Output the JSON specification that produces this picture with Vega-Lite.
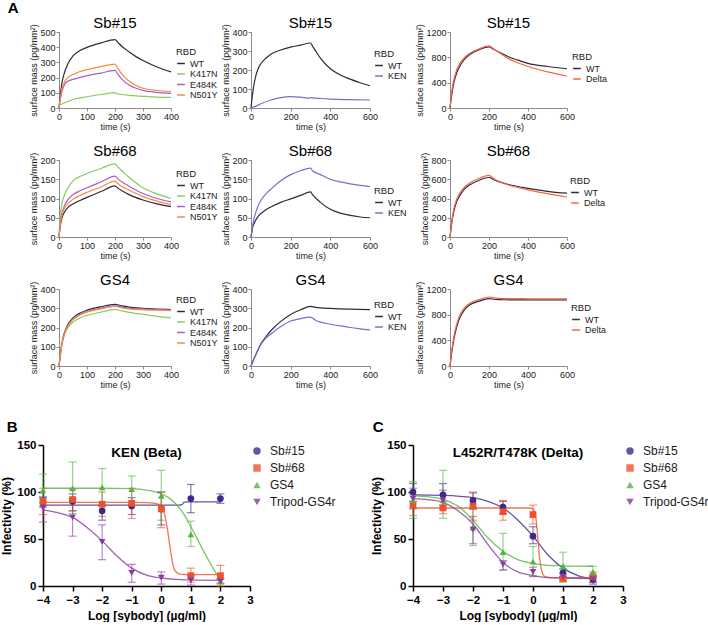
{
"$schema":"https://vega.github.io/schema/vega-lite/v6.json",
"padding":{"left":0,"top":0,"right":0,"bottom":0},
"background":"white",
"title":{"text":"A","anchor":"start","frame":"bounds","fontSize":15,"fontWeight":"bold","offset":0,"dx":7},
"config":{"font":"Liberation Sans","view":{"stroke":null},
"axis":{"grid":false,"labelFontSize":9,"titleFontSize":9,"titleFontWeight":"normal","tickSize":3,"labelPadding":1,"titlePadding":1,"domainColor":"#8a8a8a","tickColor":"#8a8a8a","labelColor":"#1a1a1a","titleColor":"#1a1a1a","labelFlush":false,"labelOverlap":false},
"legend":{"symbolType":"stroke","symbolStrokeWidth":1.5,"symbolSize":60,"labelFontSize":9,"titleFontSize":9.5,"titleFontWeight":"normal","rowPadding":0.5,"labelOffset":4,"titlePadding":2,"labelColor":"#1a1a1a","titleColor":"#1a1a1a"},
"title":{"fontSize":15,"fontWeight":"normal","color":"black","offset":-7}},
"datasets":{
"sens":[
{"p":"a1","s":"WT","t":0,"v":0},{"p":"a1","s":"WT","t":5,"v":90},{"p":"a1","s":"WT","t":10,"v":160},{"p":"a1","s":"WT","t":20,"v":235},{"p":"a1","s":"WT","t":30,"v":285},{"p":"a1","s":"WT","t":50,"v":343},{"p":"a1","s":"WT","t":75,"v":378},{"p":"a1","s":"WT","t":100,"v":399},{"p":"a1","s":"WT","t":150,"v":428},{"p":"a1","s":"WT","t":200,"v":450},{"p":"a1","s":"WT","t":210,"v":432},{"p":"a1","s":"WT","t":225,"v":405},{"p":"a1","s":"WT","t":250,"v":370},{"p":"a1","s":"WT","t":275,"v":338},{"p":"a1","s":"WT","t":300,"v":312},{"p":"a1","s":"WT","t":350,"v":270},{"p":"a1","s":"WT","t":400,"v":238},
{"p":"a1","s":"K417N","t":0,"v":18},{"p":"a1","s":"K417N","t":25,"v":38},{"p":"a1","s":"K417N","t":50,"v":56},{"p":"a1","s":"K417N","t":100,"v":74},{"p":"a1","s":"K417N","t":150,"v":89},{"p":"a1","s":"K417N","t":200,"v":101},{"p":"a1","s":"K417N","t":203,"v":97},{"p":"a1","s":"K417N","t":207,"v":94},{"p":"a1","s":"K417N","t":225,"v":89},{"p":"a1","s":"K417N","t":250,"v":83},{"p":"a1","s":"K417N","t":300,"v":77},{"p":"a1","s":"K417N","t":350,"v":72},{"p":"a1","s":"K417N","t":400,"v":70},
{"p":"a1","s":"E484K","t":0,"v":0},{"p":"a1","s":"E484K","t":5,"v":60},{"p":"a1","s":"E484K","t":10,"v":105},{"p":"a1","s":"E484K","t":20,"v":155},{"p":"a1","s":"E484K","t":30,"v":175},{"p":"a1","s":"E484K","t":50,"v":188},{"p":"a1","s":"E484K","t":75,"v":202},{"p":"a1","s":"E484K","t":100,"v":213},{"p":"a1","s":"E484K","t":150,"v":230},{"p":"a1","s":"E484K","t":200,"v":247},{"p":"a1","s":"E484K","t":210,"v":222},{"p":"a1","s":"E484K","t":225,"v":188},{"p":"a1","s":"E484K","t":250,"v":152},{"p":"a1","s":"E484K","t":275,"v":130},{"p":"a1","s":"E484K","t":300,"v":116},{"p":"a1","s":"E484K","t":350,"v":103},{"p":"a1","s":"E484K","t":400,"v":96},
{"p":"a1","s":"N501Y","t":0,"v":0},{"p":"a1","s":"N501Y","t":5,"v":70},{"p":"a1","s":"N501Y","t":10,"v":120},{"p":"a1","s":"N501Y","t":20,"v":172},{"p":"a1","s":"N501Y","t":30,"v":198},{"p":"a1","s":"N501Y","t":50,"v":220},{"p":"a1","s":"N501Y","t":75,"v":240},{"p":"a1","s":"N501Y","t":100,"v":253},{"p":"a1","s":"N501Y","t":150,"v":272},{"p":"a1","s":"N501Y","t":200,"v":289},{"p":"a1","s":"N501Y","t":210,"v":262},{"p":"a1","s":"N501Y","t":225,"v":222},{"p":"a1","s":"N501Y","t":250,"v":178},{"p":"a1","s":"N501Y","t":275,"v":148},{"p":"a1","s":"N501Y","t":300,"v":130},{"p":"a1","s":"N501Y","t":350,"v":115},{"p":"a1","s":"N501Y","t":400,"v":108},
{"p":"a2","s":"WT","t":0,"v":0},{"p":"a2","s":"WT","t":10,"v":90},{"p":"a2","s":"WT","t":20,"v":150},{"p":"a2","s":"WT","t":35,"v":205},{"p":"a2","s":"WT","t":50,"v":233},{"p":"a2","s":"WT","t":75,"v":262},{"p":"a2","s":"WT","t":100,"v":283},{"p":"a2","s":"WT","t":150,"v":305},{"p":"a2","s":"WT","t":200,"v":320},{"p":"a2","s":"WT","t":250,"v":331},{"p":"a2","s":"WT","t":300,"v":342},{"p":"a2","s":"WT","t":310,"v":326},{"p":"a2","s":"WT","t":325,"v":302},{"p":"a2","s":"WT","t":350,"v":262},{"p":"a2","s":"WT","t":400,"v":207},{"p":"a2","s":"WT","t":450,"v":174},{"p":"a2","s":"WT","t":500,"v":152},{"p":"a2","s":"WT","t":550,"v":133},{"p":"a2","s":"WT","t":600,"v":117},
{"p":"a2","s":"KEN","t":0,"v":0},{"p":"a2","s":"KEN","t":25,"v":10},{"p":"a2","s":"KEN","t":50,"v":22},{"p":"a2","s":"KEN","t":100,"v":42},{"p":"a2","s":"KEN","t":150,"v":55},{"p":"a2","s":"KEN","t":200,"v":60},{"p":"a2","s":"KEN","t":250,"v":57},{"p":"a2","s":"KEN","t":295,"v":52},{"p":"a2","s":"KEN","t":300,"v":55},{"p":"a2","s":"KEN","t":310,"v":53},{"p":"a2","s":"KEN","t":350,"v":50},{"p":"a2","s":"KEN","t":400,"v":47},{"p":"a2","s":"KEN","t":500,"v":44},{"p":"a2","s":"KEN","t":600,"v":42},
{"p":"a3","s":"WT","t":0,"v":0},{"p":"a3","s":"WT","t":10,"v":230},{"p":"a3","s":"WT","t":20,"v":400},{"p":"a3","s":"WT","t":35,"v":560},{"p":"a3","s":"WT","t":50,"v":660},{"p":"a3","s":"WT","t":75,"v":770},{"p":"a3","s":"WT","t":100,"v":840},{"p":"a3","s":"WT","t":150,"v":920},{"p":"a3","s":"WT","t":200,"v":965},{"p":"a3","s":"WT","t":225,"v":925},{"p":"a3","s":"WT","t":250,"v":885},{"p":"a3","s":"WT","t":300,"v":810},{"p":"a3","s":"WT","t":350,"v":755},{"p":"a3","s":"WT","t":400,"v":705},{"p":"a3","s":"WT","t":500,"v":655},{"p":"a3","s":"WT","t":600,"v":620},
{"p":"a3","s":"Delta","t":0,"v":0},{"p":"a3","s":"Delta","t":10,"v":280},{"p":"a3","s":"Delta","t":20,"v":450},{"p":"a3","s":"Delta","t":35,"v":610},{"p":"a3","s":"Delta","t":50,"v":700},{"p":"a3","s":"Delta","t":75,"v":800},{"p":"a3","s":"Delta","t":100,"v":860},{"p":"a3","s":"Delta","t":150,"v":935},{"p":"a3","s":"Delta","t":200,"v":980},{"p":"a3","s":"Delta","t":225,"v":930},{"p":"a3","s":"Delta","t":250,"v":880},{"p":"a3","s":"Delta","t":300,"v":780},{"p":"a3","s":"Delta","t":350,"v":710},{"p":"a3","s":"Delta","t":400,"v":655},{"p":"a3","s":"Delta","t":500,"v":570},{"p":"a3","s":"Delta","t":600,"v":505},
{"p":"b1","s":"WT","t":0,"v":0},{"p":"b1","s":"WT","t":5,"v":30},{"p":"b1","s":"WT","t":10,"v":48},{"p":"b1","s":"WT","t":20,"v":65},{"p":"b1","s":"WT","t":30,"v":75},{"p":"b1","s":"WT","t":50,"v":86},{"p":"b1","s":"WT","t":75,"v":95},{"p":"b1","s":"WT","t":100,"v":103},{"p":"b1","s":"WT","t":150,"v":118},{"p":"b1","s":"WT","t":200,"v":133},{"p":"b1","s":"WT","t":210,"v":127},{"p":"b1","s":"WT","t":225,"v":120},{"p":"b1","s":"WT","t":250,"v":110},{"p":"b1","s":"WT","t":300,"v":96},{"p":"b1","s":"WT","t":350,"v":86},{"p":"b1","s":"WT","t":400,"v":79},
{"p":"b1","s":"K417N","t":0,"v":0},{"p":"b1","s":"K417N","t":5,"v":60},{"p":"b1","s":"K417N","t":10,"v":85},{"p":"b1","s":"K417N","t":20,"v":110},{"p":"b1","s":"K417N","t":30,"v":125},{"p":"b1","s":"K417N","t":50,"v":146},{"p":"b1","s":"K417N","t":75,"v":157},{"p":"b1","s":"K417N","t":100,"v":165},{"p":"b1","s":"K417N","t":150,"v":178},{"p":"b1","s":"K417N","t":200,"v":190},{"p":"b1","s":"K417N","t":210,"v":182},{"p":"b1","s":"K417N","t":225,"v":172},{"p":"b1","s":"K417N","t":250,"v":155},{"p":"b1","s":"K417N","t":300,"v":128},{"p":"b1","s":"K417N","t":350,"v":112},{"p":"b1","s":"K417N","t":400,"v":100},
{"p":"b1","s":"E484K","t":0,"v":0},{"p":"b1","s":"E484K","t":5,"v":40},{"p":"b1","s":"E484K","t":10,"v":60},{"p":"b1","s":"E484K","t":20,"v":82},{"p":"b1","s":"E484K","t":30,"v":95},{"p":"b1","s":"E484K","t":50,"v":110},{"p":"b1","s":"E484K","t":75,"v":120},{"p":"b1","s":"E484K","t":100,"v":128},{"p":"b1","s":"E484K","t":150,"v":143},{"p":"b1","s":"E484K","t":200,"v":158},{"p":"b1","s":"E484K","t":210,"v":151},{"p":"b1","s":"E484K","t":225,"v":143},{"p":"b1","s":"E484K","t":250,"v":132},{"p":"b1","s":"E484K","t":300,"v":113},{"p":"b1","s":"E484K","t":350,"v":100},{"p":"b1","s":"E484K","t":400,"v":91},
{"p":"b1","s":"N501Y","t":0,"v":0},{"p":"b1","s":"N501Y","t":5,"v":35},{"p":"b1","s":"N501Y","t":10,"v":55},{"p":"b1","s":"N501Y","t":20,"v":75},{"p":"b1","s":"N501Y","t":30,"v":85},{"p":"b1","s":"N501Y","t":50,"v":98},{"p":"b1","s":"N501Y","t":75,"v":108},{"p":"b1","s":"N501Y","t":100,"v":116},{"p":"b1","s":"N501Y","t":150,"v":130},{"p":"b1","s":"N501Y","t":200,"v":145},{"p":"b1","s":"N501Y","t":210,"v":139},{"p":"b1","s":"N501Y","t":225,"v":131},{"p":"b1","s":"N501Y","t":250,"v":122},{"p":"b1","s":"N501Y","t":300,"v":105},{"p":"b1","s":"N501Y","t":350,"v":93},{"p":"b1","s":"N501Y","t":400,"v":84},
{"p":"b2","s":"WT","t":0,"v":0},{"p":"b2","s":"WT","t":10,"v":28},{"p":"b2","s":"WT","t":20,"v":40},{"p":"b2","s":"WT","t":35,"v":53},{"p":"b2","s":"WT","t":50,"v":61},{"p":"b2","s":"WT","t":75,"v":71},{"p":"b2","s":"WT","t":100,"v":78},{"p":"b2","s":"WT","t":150,"v":90},{"p":"b2","s":"WT","t":200,"v":99},{"p":"b2","s":"WT","t":250,"v":108},{"p":"b2","s":"WT","t":300,"v":117},{"p":"b2","s":"WT","t":310,"v":110},{"p":"b2","s":"WT","t":350,"v":90},{"p":"b2","s":"WT","t":400,"v":72},{"p":"b2","s":"WT","t":450,"v":62},{"p":"b2","s":"WT","t":500,"v":56},{"p":"b2","s":"WT","t":550,"v":52},{"p":"b2","s":"WT","t":600,"v":50},
{"p":"b2","s":"KEN","t":0,"v":0},{"p":"b2","s":"KEN","t":10,"v":35},{"p":"b2","s":"KEN","t":20,"v":57},{"p":"b2","s":"KEN","t":35,"v":80},{"p":"b2","s":"KEN","t":50,"v":95},{"p":"b2","s":"KEN","t":75,"v":112},{"p":"b2","s":"KEN","t":100,"v":124},{"p":"b2","s":"KEN","t":150,"v":146},{"p":"b2","s":"KEN","t":200,"v":162},{"p":"b2","s":"KEN","t":250,"v":172},{"p":"b2","s":"KEN","t":300,"v":179},{"p":"b2","s":"KEN","t":310,"v":172},{"p":"b2","s":"KEN","t":350,"v":162},{"p":"b2","s":"KEN","t":400,"v":150},{"p":"b2","s":"KEN","t":450,"v":143},{"p":"b2","s":"KEN","t":500,"v":138},{"p":"b2","s":"KEN","t":550,"v":134},{"p":"b2","s":"KEN","t":600,"v":131},
{"p":"b3","s":"WT","t":0,"v":0},{"p":"b3","s":"WT","t":10,"v":160},{"p":"b3","s":"WT","t":20,"v":270},{"p":"b3","s":"WT","t":35,"v":370},{"p":"b3","s":"WT","t":50,"v":430},{"p":"b3","s":"WT","t":75,"v":500},{"p":"b3","s":"WT","t":100,"v":540},{"p":"b3","s":"WT","t":150,"v":590},{"p":"b3","s":"WT","t":200,"v":618},{"p":"b3","s":"WT","t":225,"v":595},{"p":"b3","s":"WT","t":250,"v":575},{"p":"b3","s":"WT","t":300,"v":545},{"p":"b3","s":"WT","t":400,"v":505},{"p":"b3","s":"WT","t":500,"v":475},{"p":"b3","s":"WT","t":600,"v":455},
{"p":"b3","s":"Delta","t":0,"v":0},{"p":"b3","s":"Delta","t":10,"v":180},{"p":"b3","s":"Delta","t":20,"v":295},{"p":"b3","s":"Delta","t":35,"v":395},{"p":"b3","s":"Delta","t":50,"v":455},{"p":"b3","s":"Delta","t":75,"v":520},{"p":"b3","s":"Delta","t":100,"v":560},{"p":"b3","s":"Delta","t":150,"v":610},{"p":"b3","s":"Delta","t":200,"v":640},{"p":"b3","s":"Delta","t":225,"v":605},{"p":"b3","s":"Delta","t":250,"v":580},{"p":"b3","s":"Delta","t":300,"v":540},{"p":"b3","s":"Delta","t":400,"v":490},{"p":"b3","s":"Delta","t":500,"v":450},{"p":"b3","s":"Delta","t":600,"v":415},
{"p":"c1","s":"WT","t":0,"v":0},{"p":"c1","s":"WT","t":5,"v":60},{"p":"c1","s":"WT","t":10,"v":115},{"p":"c1","s":"WT","t":20,"v":175},{"p":"c1","s":"WT","t":30,"v":210},{"p":"c1","s":"WT","t":50,"v":250},{"p":"c1","s":"WT","t":75,"v":275},{"p":"c1","s":"WT","t":100,"v":290},{"p":"c1","s":"WT","t":150,"v":308},{"p":"c1","s":"WT","t":200,"v":320},{"p":"c1","s":"WT","t":225,"v":312},{"p":"c1","s":"WT","t":250,"v":306},{"p":"c1","s":"WT","t":300,"v":300},{"p":"c1","s":"WT","t":350,"v":296},{"p":"c1","s":"WT","t":400,"v":293},
{"p":"c1","s":"K417N","t":0,"v":0},{"p":"c1","s":"K417N","t":5,"v":65},{"p":"c1","s":"K417N","t":10,"v":115},{"p":"c1","s":"K417N","t":20,"v":165},{"p":"c1","s":"K417N","t":30,"v":195},{"p":"c1","s":"K417N","t":50,"v":228},{"p":"c1","s":"K417N","t":75,"v":250},{"p":"c1","s":"K417N","t":100,"v":263},{"p":"c1","s":"K417N","t":150,"v":280},{"p":"c1","s":"K417N","t":200,"v":294},{"p":"c1","s":"K417N","t":225,"v":286},{"p":"c1","s":"K417N","t":250,"v":279},{"p":"c1","s":"K417N","t":300,"v":268},{"p":"c1","s":"K417N","t":350,"v":258},{"p":"c1","s":"K417N","t":400,"v":250},
{"p":"c1","s":"E484K","t":0,"v":0},{"p":"c1","s":"E484K","t":5,"v":58},{"p":"c1","s":"E484K","t":10,"v":110},{"p":"c1","s":"E484K","t":20,"v":170},{"p":"c1","s":"E484K","t":30,"v":205},{"p":"c1","s":"E484K","t":50,"v":245},{"p":"c1","s":"E484K","t":75,"v":268},{"p":"c1","s":"E484K","t":100,"v":283},{"p":"c1","s":"E484K","t":150,"v":300},{"p":"c1","s":"E484K","t":200,"v":313},{"p":"c1","s":"E484K","t":225,"v":306},{"p":"c1","s":"E484K","t":250,"v":301},{"p":"c1","s":"E484K","t":300,"v":296},{"p":"c1","s":"E484K","t":350,"v":293},{"p":"c1","s":"E484K","t":400,"v":291},
{"p":"c1","s":"N501Y","t":0,"v":0},{"p":"c1","s":"N501Y","t":5,"v":57},{"p":"c1","s":"N501Y","t":10,"v":108},{"p":"c1","s":"N501Y","t":20,"v":168},{"p":"c1","s":"N501Y","t":30,"v":202},{"p":"c1","s":"N501Y","t":50,"v":241},{"p":"c1","s":"N501Y","t":75,"v":265},{"p":"c1","s":"N501Y","t":100,"v":280},{"p":"c1","s":"N501Y","t":150,"v":297},{"p":"c1","s":"N501Y","t":200,"v":309},{"p":"c1","s":"N501Y","t":225,"v":302},{"p":"c1","s":"N501Y","t":250,"v":297},{"p":"c1","s":"N501Y","t":300,"v":292},{"p":"c1","s":"N501Y","t":350,"v":290},{"p":"c1","s":"N501Y","t":400,"v":288},
{"p":"c2","s":"WT","t":0,"v":0},{"p":"c2","s":"WT","t":10,"v":25},{"p":"c2","s":"WT","t":25,"v":60},{"p":"c2","s":"WT","t":50,"v":115},{"p":"c2","s":"WT","t":75,"v":152},{"p":"c2","s":"WT","t":100,"v":183},{"p":"c2","s":"WT","t":150,"v":232},{"p":"c2","s":"WT","t":200,"v":268},{"p":"c2","s":"WT","t":250,"v":292},{"p":"c2","s":"WT","t":300,"v":310},{"p":"c2","s":"WT","t":325,"v":305},{"p":"c2","s":"WT","t":350,"v":302},{"p":"c2","s":"WT","t":400,"v":299},{"p":"c2","s":"WT","t":500,"v":295},{"p":"c2","s":"WT","t":600,"v":293},
{"p":"c2","s":"KEN","t":0,"v":0},{"p":"c2","s":"KEN","t":10,"v":25},{"p":"c2","s":"KEN","t":25,"v":62},{"p":"c2","s":"KEN","t":50,"v":112},{"p":"c2","s":"KEN","t":75,"v":145},{"p":"c2","s":"KEN","t":100,"v":166},{"p":"c2","s":"KEN","t":150,"v":205},{"p":"c2","s":"KEN","t":200,"v":234},{"p":"c2","s":"KEN","t":250,"v":246},{"p":"c2","s":"KEN","t":300,"v":254},{"p":"c2","s":"KEN","t":325,"v":238},{"p":"c2","s":"KEN","t":350,"v":228},{"p":"c2","s":"KEN","t":400,"v":217},{"p":"c2","s":"KEN","t":450,"v":208},{"p":"c2","s":"KEN","t":500,"v":200},{"p":"c2","s":"KEN","t":550,"v":193},{"p":"c2","s":"KEN","t":600,"v":188},
{"p":"c3","s":"WT","t":0,"v":0},{"p":"c3","s":"WT","t":10,"v":230},{"p":"c3","s":"WT","t":20,"v":420},{"p":"c3","s":"WT","t":35,"v":620},{"p":"c3","s":"WT","t":50,"v":750},{"p":"c3","s":"WT","t":75,"v":880},{"p":"c3","s":"WT","t":100,"v":950},{"p":"c3","s":"WT","t":150,"v":1010},{"p":"c3","s":"WT","t":200,"v":1050},{"p":"c3","s":"WT","t":225,"v":1040},{"p":"c3","s":"WT","t":250,"v":1035},{"p":"c3","s":"WT","t":300,"v":1032},{"p":"c3","s":"WT","t":400,"v":1030},{"p":"c3","s":"WT","t":500,"v":1030},{"p":"c3","s":"WT","t":600,"v":1030},
{"p":"c3","s":"Delta","t":0,"v":0},{"p":"c3","s":"Delta","t":10,"v":260},{"p":"c3","s":"Delta","t":20,"v":460},{"p":"c3","s":"Delta","t":35,"v":660},{"p":"c3","s":"Delta","t":50,"v":790},{"p":"c3","s":"Delta","t":75,"v":910},{"p":"c3","s":"Delta","t":100,"v":975},{"p":"c3","s":"Delta","t":150,"v":1035},{"p":"c3","s":"Delta","t":200,"v":1075},{"p":"c3","s":"Delta","t":225,"v":1063},{"p":"c3","s":"Delta","t":250,"v":1055},{"p":"c3","s":"Delta","t":300,"v":1050},{"p":"c3","s":"Delta","t":400,"v":1048},{"p":"c3","s":"Delta","t":500,"v":1046},{"p":"c3","s":"Delta","t":600,"v":1045}
],
"pts":[
{"p":"B","sb":"Sb#15","x":-4,"y":89,"lo":84,"hi":94},{"p":"B","sb":"Sb#15","x":-3,"y":90,"lo":80,"hi":98},{"p":"B","sb":"Sb#15","x":-2,"y":80,"lo":70,"hi":86},{"p":"B","sb":"Sb#15","x":-1,"y":85,"lo":76,"hi":94},{"p":"B","sb":"Sb#15","x":0,"y":82,"lo":65,"hi":100},{"p":"B","sb":"Sb#15","x":1,"y":93,"lo":78,"hi":108},{"p":"B","sb":"Sb#15","x":2,"y":93,"lo":88,"hi":98},
{"p":"B","sb":"Sb#68","x":-4,"y":90,"lo":76,"hi":104},{"p":"B","sb":"Sb#68","x":-3,"y":92,"lo":80,"hi":103},{"p":"B","sb":"Sb#68","x":-2,"y":87,"lo":74,"hi":100},{"p":"B","sb":"Sb#68","x":-1,"y":88,"lo":72,"hi":104},{"p":"B","sb":"Sb#68","x":0,"y":82,"lo":62,"hi":100},{"p":"B","sb":"Sb#68","x":1,"y":11,"lo":4,"hi":19},{"p":"B","sb":"Sb#68","x":2,"y":11,"lo":0,"hi":22},
{"p":"B","sb":"GS4","x":-4,"y":102,"lo":85,"hi":119},{"p":"B","sb":"GS4","x":-3,"y":104,"lo":77,"hi":132},{"p":"B","sb":"GS4","x":-2,"y":105,"lo":85,"hi":125},{"p":"B","sb":"GS4","x":-1,"y":103,"lo":89,"hi":117},{"p":"B","sb":"GS4","x":0,"y":96,"lo":70,"hi":123},{"p":"B","sb":"GS4","x":1,"y":55,"lo":42,"hi":69},{"p":"B","sb":"GS4","x":2,"y":5,"lo":2,"hi":8},
{"p":"B","sb":"Tripod-GS4r","x":-4,"y":83,"lo":68,"hi":95},{"p":"B","sb":"Tripod-GS4r","x":-3,"y":73,"lo":53,"hi":93},{"p":"B","sb":"Tripod-GS4r","x":-2,"y":47,"lo":28,"hi":65},{"p":"B","sb":"Tripod-GS4r","x":-1,"y":14,"lo":4,"hi":23},{"p":"B","sb":"Tripod-GS4r","x":0,"y":9,"lo":2,"hi":15},{"p":"B","sb":"Tripod-GS4r","x":1,"y":6,"lo":1,"hi":11},{"p":"B","sb":"Tripod-GS4r","x":2,"y":5,"lo":3,"hi":7},
{"p":"C","sb":"Sb#15","x":-4,"y":100,"lo":90,"hi":109},{"p":"C","sb":"Sb#15","x":-3,"y":97,"lo":86,"hi":109},{"p":"C","sb":"Sb#15","x":-2,"y":91,"lo":82,"hi":99},{"p":"C","sb":"Sb#15","x":-1,"y":84,"lo":77,"hi":90},{"p":"C","sb":"Sb#15","x":0,"y":53,"lo":45,"hi":63},{"p":"C","sb":"Sb#15","x":1,"y":14,"lo":10,"hi":18},{"p":"C","sb":"Sb#15","x":2,"y":7,"lo":2,"hi":11},
{"p":"C","sb":"Sb#68","x":-4,"y":86,"lo":75,"hi":97},{"p":"C","sb":"Sb#68","x":-3,"y":83,"lo":77,"hi":90},{"p":"C","sb":"Sb#68","x":-2,"y":85,"lo":70,"hi":100},{"p":"C","sb":"Sb#68","x":-1,"y":79,"lo":70,"hi":91},{"p":"C","sb":"Sb#68","x":0,"y":76,"lo":66,"hi":86},{"p":"C","sb":"Sb#68","x":1,"y":8,"lo":5,"hi":10},{"p":"C","sb":"Sb#68","x":2,"y":10,"lo":4,"hi":15},
{"p":"C","sb":"GS4","x":-4,"y":91,"lo":72,"hi":111},{"p":"C","sb":"GS4","x":-3,"y":91,"lo":72,"hi":123},{"p":"C","sb":"GS4","x":-2,"y":62,"lo":43,"hi":82},{"p":"C","sb":"GS4","x":-1,"y":36,"lo":17,"hi":56},{"p":"C","sb":"GS4","x":0,"y":26,"lo":11,"hi":42},{"p":"C","sb":"GS4","x":1,"y":21,"lo":4,"hi":36},{"p":"C","sb":"GS4","x":2,"y":15,"lo":10,"hi":21},
{"p":"C","sb":"Tripod-GS4r","x":-4,"y":93,"lo":82,"hi":104},{"p":"C","sb":"Tripod-GS4r","x":-3,"y":91,"lo":82,"hi":102},{"p":"C","sb":"Tripod-GS4r","x":-2,"y":60,"lo":45,"hi":74},{"p":"C","sb":"Tripod-GS4r","x":-1,"y":23,"lo":17,"hi":27},{"p":"C","sb":"Tripod-GS4r","x":0,"y":15,"lo":10,"hi":20},{"p":"C","sb":"Tripod-GS4r","x":1,"y":10,"lo":7,"hi":13},{"p":"C","sb":"Tripod-GS4r","x":2,"y":7,"lo":4,"hi":10}
],
"fit":[
{"p":"B","sb":"Sb#15","x":-4,"y":86},{"p":"B","sb":"Sb#15","x":-2,"y":86},{"p":"B","sb":"Sb#15","x":0,"y":86},{"p":"B","sb":"Sb#15","x":0.6,"y":86},{"p":"B","sb":"Sb#15","x":0.7,"y":86.5},{"p":"B","sb":"Sb#15","x":0.76,"y":89},{"p":"B","sb":"Sb#15","x":0.85,"y":89.5},{"p":"B","sb":"Sb#15","x":1.5,"y":89.5},{"p":"B","sb":"Sb#15","x":2,"y":89.5},
{"p":"B","sb":"Sb#68","x":-4,"y":89},{"p":"B","sb":"Sb#68","x":-1,"y":89},{"p":"B","sb":"Sb#68","x":-0.5,"y":88.8},{"p":"B","sb":"Sb#68","x":-0.2,"y":88},{"p":"B","sb":"Sb#68","x":0,"y":85},{"p":"B","sb":"Sb#68","x":0.1,"y":78},{"p":"B","sb":"Sb#68","x":0.2,"y":62},{"p":"B","sb":"Sb#68","x":0.3,"y":40},{"p":"B","sb":"Sb#68","x":0.4,"y":22},{"p":"B","sb":"Sb#68","x":0.5,"y":15},{"p":"B","sb":"Sb#68","x":0.7,"y":12.3},{"p":"B","sb":"Sb#68","x":1,"y":12},{"p":"B","sb":"Sb#68","x":2,"y":12},
{"p":"B","sb":"GS4","x":-4,"y":104},{"p":"B","sb":"GS4","x":-3,"y":104},{"p":"B","sb":"GS4","x":-2,"y":104},{"p":"B","sb":"GS4","x":-1,"y":103.5},{"p":"B","sb":"GS4","x":-0.5,"y":102},{"p":"B","sb":"GS4","x":0,"y":98},{"p":"B","sb":"GS4","x":0.25,"y":94},{"p":"B","sb":"GS4","x":0.5,"y":87},{"p":"B","sb":"GS4","x":0.75,"y":77},{"p":"B","sb":"GS4","x":1,"y":63},{"p":"B","sb":"GS4","x":1.25,"y":48},{"p":"B","sb":"GS4","x":1.5,"y":33},{"p":"B","sb":"GS4","x":1.75,"y":19},{"p":"B","sb":"GS4","x":2,"y":6},
{"p":"B","sb":"Tripod-GS4r","x":-4,"y":81},{"p":"B","sb":"Tripod-GS4r","x":-3.5,"y":78},{"p":"B","sb":"Tripod-GS4r","x":-3,"y":73},{"p":"B","sb":"Tripod-GS4r","x":-2.5,"y":62},{"p":"B","sb":"Tripod-GS4r","x":-2,"y":48},{"p":"B","sb":"Tripod-GS4r","x":-1.5,"y":32},{"p":"B","sb":"Tripod-GS4r","x":-1,"y":19},{"p":"B","sb":"Tripod-GS4r","x":-0.5,"y":11.5},{"p":"B","sb":"Tripod-GS4r","x":0,"y":8.5},{"p":"B","sb":"Tripod-GS4r","x":0.5,"y":7},{"p":"B","sb":"Tripod-GS4r","x":1,"y":6.5},{"p":"B","sb":"Tripod-GS4r","x":2,"y":6},
{"p":"C","sb":"Sb#15","x":-4,"y":97},{"p":"C","sb":"Sb#15","x":-3,"y":96.5},{"p":"C","sb":"Sb#15","x":-2,"y":94},{"p":"C","sb":"Sb#15","x":-1.5,"y":90},{"p":"C","sb":"Sb#15","x":-1,"y":83},{"p":"C","sb":"Sb#15","x":-0.5,"y":70},{"p":"C","sb":"Sb#15","x":0,"y":53},{"p":"C","sb":"Sb#15","x":0.5,"y":33},{"p":"C","sb":"Sb#15","x":1,"y":19},{"p":"C","sb":"Sb#15","x":1.5,"y":11},{"p":"C","sb":"Sb#15","x":2,"y":7},
{"p":"C","sb":"Sb#68","x":-4,"y":83},{"p":"C","sb":"Sb#68","x":-1,"y":83},{"p":"C","sb":"Sb#68","x":-0.1,"y":83},{"p":"C","sb":"Sb#68","x":0,"y":82},{"p":"C","sb":"Sb#68","x":0.08,"y":76},{"p":"C","sb":"Sb#68","x":0.15,"y":55},{"p":"C","sb":"Sb#68","x":0.22,"y":30},{"p":"C","sb":"Sb#68","x":0.3,"y":15},{"p":"C","sb":"Sb#68","x":0.4,"y":10},{"p":"C","sb":"Sb#68","x":0.6,"y":9},{"p":"C","sb":"Sb#68","x":1,"y":9},{"p":"C","sb":"Sb#68","x":2,"y":9},
{"p":"C","sb":"GS4","x":-4,"y":96},{"p":"C","sb":"GS4","x":-3.5,"y":95},{"p":"C","sb":"GS4","x":-3,"y":92},{"p":"C","sb":"GS4","x":-2.5,"y":85},{"p":"C","sb":"GS4","x":-2,"y":70},{"p":"C","sb":"GS4","x":-1.5,"y":51},{"p":"C","sb":"GS4","x":-1,"y":37},{"p":"C","sb":"GS4","x":-0.5,"y":28},{"p":"C","sb":"GS4","x":0,"y":24},{"p":"C","sb":"GS4","x":0.5,"y":22},{"p":"C","sb":"GS4","x":1,"y":21.5},{"p":"C","sb":"GS4","x":2,"y":21},
{"p":"C","sb":"Tripod-GS4r","x":-4,"y":93},{"p":"C","sb":"Tripod-GS4r","x":-3.5,"y":92},{"p":"C","sb":"Tripod-GS4r","x":-3,"y":89},{"p":"C","sb":"Tripod-GS4r","x":-2.5,"y":80},{"p":"C","sb":"Tripod-GS4r","x":-2,"y":66},{"p":"C","sb":"Tripod-GS4r","x":-1.5,"y":44},{"p":"C","sb":"Tripod-GS4r","x":-1,"y":25},{"p":"C","sb":"Tripod-GS4r","x":-0.5,"y":15},{"p":"C","sb":"Tripod-GS4r","x":0,"y":11},{"p":"C","sb":"Tripod-GS4r","x":0.5,"y":9},{"p":"C","sb":"Tripod-GS4r","x":1,"y":8.5},{"p":"C","sb":"Tripod-GS4r","x":2,"y":8}
]
},
"vconcat":[
{"hconcat":[
{"width":1,"height":1,"data":{"values":[]},"mark":{"type":"point"},"encoding":{}},
{"columns":3,"spacing":{"row":52,"column":80},"bounds":"flush",
"resolve":{"scale":{"color":"independent","x":"independent","y":"independent"}},
"concat":[
{"width":112,"height":76,"title":"Sb#15","data":{"name":"sens"},"transform":[{"filter":"datum.p==='a1'"}],"mark":{"type":"line","strokeWidth":1.2,"interpolate":"monotone"},
"encoding":{"x":{"field":"t","type":"quantitative","scale":{"domain":[0,400],"nice":false},"axis":{"values":[0,100,200,300,400],"title":"time (s)"}},
"y":{"field":"v","type":"quantitative","scale":{"domain":[0,500],"nice":false},"axis":{"values":[0,100,200,300,400,500],"title":"surface mass (pg/mm²)"}},
"color":{"field":"s","type":"nominal","scale":{"domain":["WT","K417N","E484K","N501Y"],"range":["#2d2a3e","#86cc5f","#aa5cc9","#f8893f"]},"legend":{"title":"RBD","orient":"none","legendX":117,"legendY":15}}}},
{"width":119,"height":76,"title":"Sb#15","data":{"name":"sens"},"transform":[{"filter":"datum.p==='a2'"}],"mark":{"type":"line","strokeWidth":1.2,"interpolate":"monotone"},
"encoding":{"x":{"field":"t","type":"quantitative","scale":{"domain":[0,600],"nice":false},"axis":{"values":[0,200,400,600],"title":"time (s)"}},
"y":{"field":"v","type":"quantitative","scale":{"domain":[0,400],"nice":false},"axis":{"values":[0,100,200,300,400],"title":"surface mass (pg/mm²)"}},
"color":{"field":"s","type":"nominal","scale":{"domain":["WT","KEN"],"range":["#2d2a3e","#7b6bcf"]},"legend":{"title":"RBD","orient":"none","legendX":123,"legendY":17}}}},
{"width":117,"height":76,"title":"Sb#15","data":{"name":"sens"},"transform":[{"filter":"datum.p==='a3'"}],"mark":{"type":"line","strokeWidth":1.2,"interpolate":"monotone"},
"encoding":{"x":{"field":"t","type":"quantitative","scale":{"domain":[0,600],"nice":false},"axis":{"values":[0,200,400,600],"title":"time (s)"}},
"y":{"field":"v","type":"quantitative","scale":{"domain":[0,1200],"nice":false},"axis":{"values":[0,400,800,1200],"format":"d","title":"surface mass (pg/mm²)"}},
"color":{"field":"s","type":"nominal","scale":{"domain":["WT","Delta"],"range":["#2d2a3e","#f4683f"]},"legend":{"title":"RBD","orient":"none","legendX":122,"legendY":20}}}},
{"width":112,"height":77,"title":"Sb#68","data":{"name":"sens"},"transform":[{"filter":"datum.p==='b1'"}],"mark":{"type":"line","strokeWidth":1.2,"interpolate":"monotone"},
"encoding":{"x":{"field":"t","type":"quantitative","scale":{"domain":[0,400],"nice":false},"axis":{"values":[0,100,200,300,400],"title":"time (s)"}},
"y":{"field":"v","type":"quantitative","scale":{"domain":[0,200],"nice":false},"axis":{"values":[0,50,100,150,200],"title":"surface mass (pg/mm²)"}},
"color":{"field":"s","type":"nominal","scale":{"domain":["WT","K417N","E484K","N501Y"],"range":["#2d2a3e","#86cc5f","#aa5cc9","#f8893f"]},"legend":{"title":"RBD","orient":"none","legendX":117,"legendY":9}}}},
{"width":119,"height":77,"title":"Sb#68","data":{"name":"sens"},"transform":[{"filter":"datum.p==='b2'"}],"mark":{"type":"line","strokeWidth":1.2,"interpolate":"monotone"},
"encoding":{"x":{"field":"t","type":"quantitative","scale":{"domain":[0,600],"nice":false},"axis":{"values":[0,200,400,600],"title":"time (s)"}},
"y":{"field":"v","type":"quantitative","scale":{"domain":[0,200],"nice":false},"axis":{"values":[0,50,100,150,200],"title":"surface mass (pg/mm²)"}},
"color":{"field":"s","type":"nominal","scale":{"domain":["WT","KEN"],"range":["#2d2a3e","#7b6bcf"]},"legend":{"title":"RBD","orient":"none","legendX":123,"legendY":26}}}},
{"width":117,"height":77,"title":"Sb#68","data":{"name":"sens"},"transform":[{"filter":"datum.p==='b3'"}],"mark":{"type":"line","strokeWidth":1.2,"interpolate":"monotone"},
"encoding":{"x":{"field":"t","type":"quantitative","scale":{"domain":[0,600],"nice":false},"axis":{"values":[0,200,400,600],"title":"time (s)"}},
"y":{"field":"v","type":"quantitative","scale":{"domain":[0,800],"nice":false},"axis":{"values":[0,200,400,600,800],"title":"surface mass (pg/mm²)"}},
"color":{"field":"s","type":"nominal","scale":{"domain":["WT","Delta"],"range":["#2d2a3e","#f4683f"]},"legend":{"title":"RBD","orient":"none","legendX":120,"legendY":16}}}},
{"width":112,"height":77,"title":"GS4","data":{"name":"sens"},"transform":[{"filter":"datum.p==='c1'"}],"mark":{"type":"line","strokeWidth":1.2,"interpolate":"monotone"},
"encoding":{"x":{"field":"t","type":"quantitative","scale":{"domain":[0,400],"nice":false},"axis":{"values":[0,100,200,300,400],"title":"time (s)"}},
"y":{"field":"v","type":"quantitative","scale":{"domain":[0,400],"nice":false},"axis":{"values":[0,100,200,300,400],"title":"surface mass (pg/mm²)"}},
"color":{"field":"s","type":"nominal","scale":{"domain":["WT","K417N","E484K","N501Y"],"range":["#2d2a3e","#86cc5f","#aa5cc9","#f8893f"]},"legend":{"title":"RBD","orient":"none","legendX":117,"legendY":6}}}},
{"width":119,"height":77,"title":"GS4","data":{"name":"sens"},"transform":[{"filter":"datum.p==='c2'"}],"mark":{"type":"line","strokeWidth":1.2,"interpolate":"monotone"},
"encoding":{"x":{"field":"t","type":"quantitative","scale":{"domain":[0,600],"nice":false},"axis":{"values":[0,200,400,600],"title":"time (s)"}},
"y":{"field":"v","type":"quantitative","scale":{"domain":[0,400],"nice":false},"axis":{"values":[0,100,200,300,400],"title":"surface mass (pg/mm²)"}},
"color":{"field":"s","type":"nominal","scale":{"domain":["WT","KEN"],"range":["#2d2a3e","#7b6bcf"]},"legend":{"title":"RBD","orient":"none","legendX":123,"legendY":11}}}},
{"width":117,"height":77,"title":"GS4","data":{"name":"sens"},"transform":[{"filter":"datum.p==='c3'"}],"mark":{"type":"line","strokeWidth":1.2,"interpolate":"monotone"},
"encoding":{"x":{"field":"t","type":"quantitative","scale":{"domain":[0,600],"nice":false},"axis":{"values":[0,200,400,600],"title":"time (s)"}},
"y":{"field":"v","type":"quantitative","scale":{"domain":[0,1200],"nice":false},"axis":{"values":[0,400,800,1200],"format":"d","title":"surface mass (pg/mm²)"}},
"color":{"field":"s","type":"nominal","scale":{"domain":["WT","Delta"],"range":["#2d2a3e","#f4683f"]},"legend":{"title":"RBD","orient":"none","legendX":121,"legendY":14}}}}
]}],
"spacing":15,"bounds":"flush",
"resolve":{"scale":{"color":"independent","x":"independent","y":"independent"}}},
{"hconcat":[
{"title":{"text":"B","anchor":"start","frame":"bounds","fontSize":15,"fontWeight":"bold","offset":4,"dx":6},
"vconcat":[
{"width":207,"height":141,"title":{"text":"KEN (Beta)","fontSize":13.5,"fontWeight":"bold","offset":-20},
"encoding":{"x":{"field":"x","type":"quantitative","scale":{"domain":[-4,3],"nice":false},"axis":{"values":[-4,-3,-2,-1,0,1,2,3],"title":"Log [sybody] (µg/ml)","labelFontSize":11.5,"labelFontWeight":"bold","titleFontSize":12,"titleFontWeight":"bold","domainColor":"black","domainWidth":1.5,"tickColor":"black","tickWidth":1.5,"tickSize":5,"labelColor":"black","titleColor":"black","labelPadding":3,"titlePadding":5,"labelOverlap":false}}},
"layer":[
{"data":{"name":"fit"},"transform":[{"filter":"datum.p==='B'"}],"mark":{"type":"line","strokeWidth":1.3,"opacity":0.8,"interpolate":"monotone"},
"encoding":{"y":{"field":"y","type":"quantitative","title":"Infectivity (%)","scale":{"domain":[0,150],"nice":false},"axis":{"values":[0,50,100,150],"title":"Infectivity (%)","labelFontSize":11.5,"labelFontWeight":"bold","titleFontSize":12,"titleFontWeight":"bold","domainColor":"black","domainWidth":1.5,"tickColor":"black","tickWidth":1.5,"tickSize":5,"labelColor":"black","titleColor":"black","labelPadding":2,"titlePadding":3}},
"color":{"field":"sb","type":"nominal","scale":{"domain":["Sb#15","Sb#68","GS4","Tripod-GS4r"],"range":["#3b2a8c","#f0502a","#55b544","#8a3aa0"]}}}},
{"data":{"name":"pts"},"transform":[{"filter":"datum.p==='B'"}],"mark":{"type":"errorbar","ticks":true,"size":8,"thickness":1.2,"opacity":0.6},
"encoding":{"y":{"field":"lo","type":"quantitative","title":"Infectivity (%)"},"y2":{"field":"hi"},"color":{"field":"sb","type":"nominal"}}},
{"data":{"name":"pts"},"transform":[{"filter":"datum.p==='B'"}],"mark":{"type":"point","filled":true,"size":45,"opacity":1},
"encoding":{"y":{"field":"y","type":"quantitative","title":"Infectivity (%)"},
"color":{"field":"sb","type":"nominal","legend":{"title":null,"orient":"right","offset":-3,"labelFontSize":12,"symbolSize":55,"symbolType":"circle","symbolStrokeWidth":0,"rowPadding":5,"labelOffset":7}},
"shape":{"field":"sb","type":"nominal","scale":{"domain":["Sb#15","Sb#68","GS4","Tripod-GS4r"],"range":["circle","square","triangle-up","triangle-down"]},"legend":{"title":null,"orient":"right","offset":-3,"labelFontSize":12,"symbolSize":55,"symbolStrokeWidth":0,"rowPadding":5,"labelOffset":7}}}}
]}]},
{"title":{"text":"C","anchor":"start","frame":"bounds","fontSize":15,"fontWeight":"bold","offset":4,"dx":2},
"vconcat":[
{"width":210,"height":141,"title":{"text":"L452R/T478K (Delta)","fontSize":13.5,"fontWeight":"bold","offset":-20},
"encoding":{"x":{"field":"x","type":"quantitative","scale":{"domain":[-4,3],"nice":false},"axis":{"values":[-4,-3,-2,-1,0,1,2,3],"title":"Log [sybody] (µg/ml)","labelFontSize":11.5,"labelFontWeight":"bold","titleFontSize":12,"titleFontWeight":"bold","domainColor":"black","domainWidth":1.5,"tickColor":"black","tickWidth":1.5,"tickSize":5,"labelColor":"black","titleColor":"black","labelPadding":3,"titlePadding":5,"labelOverlap":false}}},
"layer":[
{"data":{"name":"fit"},"transform":[{"filter":"datum.p==='C'"}],"mark":{"type":"line","strokeWidth":1.3,"opacity":0.8,"interpolate":"monotone"},
"encoding":{"y":{"field":"y","type":"quantitative","title":"Infectivity (%)","scale":{"domain":[0,150],"nice":false},"axis":{"values":[0,50,100,150],"title":"Infectivity (%)","labelFontSize":11.5,"labelFontWeight":"bold","titleFontSize":12,"titleFontWeight":"bold","domainColor":"black","domainWidth":1.5,"tickColor":"black","tickWidth":1.5,"tickSize":5,"labelColor":"black","titleColor":"black","labelPadding":2,"titlePadding":3}},
"color":{"field":"sb","type":"nominal","scale":{"domain":["Sb#15","Sb#68","GS4","Tripod-GS4r"],"range":["#3b2a8c","#f0502a","#55b544","#8a3aa0"]}}}},
{"data":{"name":"pts"},"transform":[{"filter":"datum.p==='C'"}],"mark":{"type":"errorbar","ticks":true,"size":8,"thickness":1.2,"opacity":0.6},
"encoding":{"y":{"field":"lo","type":"quantitative","title":"Infectivity (%)"},"y2":{"field":"hi"},"color":{"field":"sb","type":"nominal"}}},
{"data":{"name":"pts"},"transform":[{"filter":"datum.p==='C'"}],"mark":{"type":"point","filled":true,"size":45,"opacity":1},
"encoding":{"y":{"field":"y","type":"quantitative","title":"Infectivity (%)"},
"color":{"field":"sb","type":"nominal","legend":{"title":null,"orient":"right","offset":-3,"labelFontSize":12,"symbolSize":55,"symbolType":"circle","symbolStrokeWidth":0,"rowPadding":5,"labelOffset":7}},
"shape":{"field":"sb","type":"nominal","scale":{"domain":["Sb#15","Sb#68","GS4","Tripod-GS4r"],"range":["circle","square","triangle-up","triangle-down"]},"legend":{"title":null,"orient":"right","offset":-3,"labelFontSize":12,"symbolSize":55,"symbolStrokeWidth":0,"rowPadding":5,"labelOffset":7}}}}
]}]}
],"spacing":34,"resolve":{"scale":{"color":"independent","shape":"independent","x":"independent","y":"independent"}}}
],
"spacing":31,
"resolve":{"scale":{"color":"independent","shape":"independent","x":"independent","y":"independent"}}
}
